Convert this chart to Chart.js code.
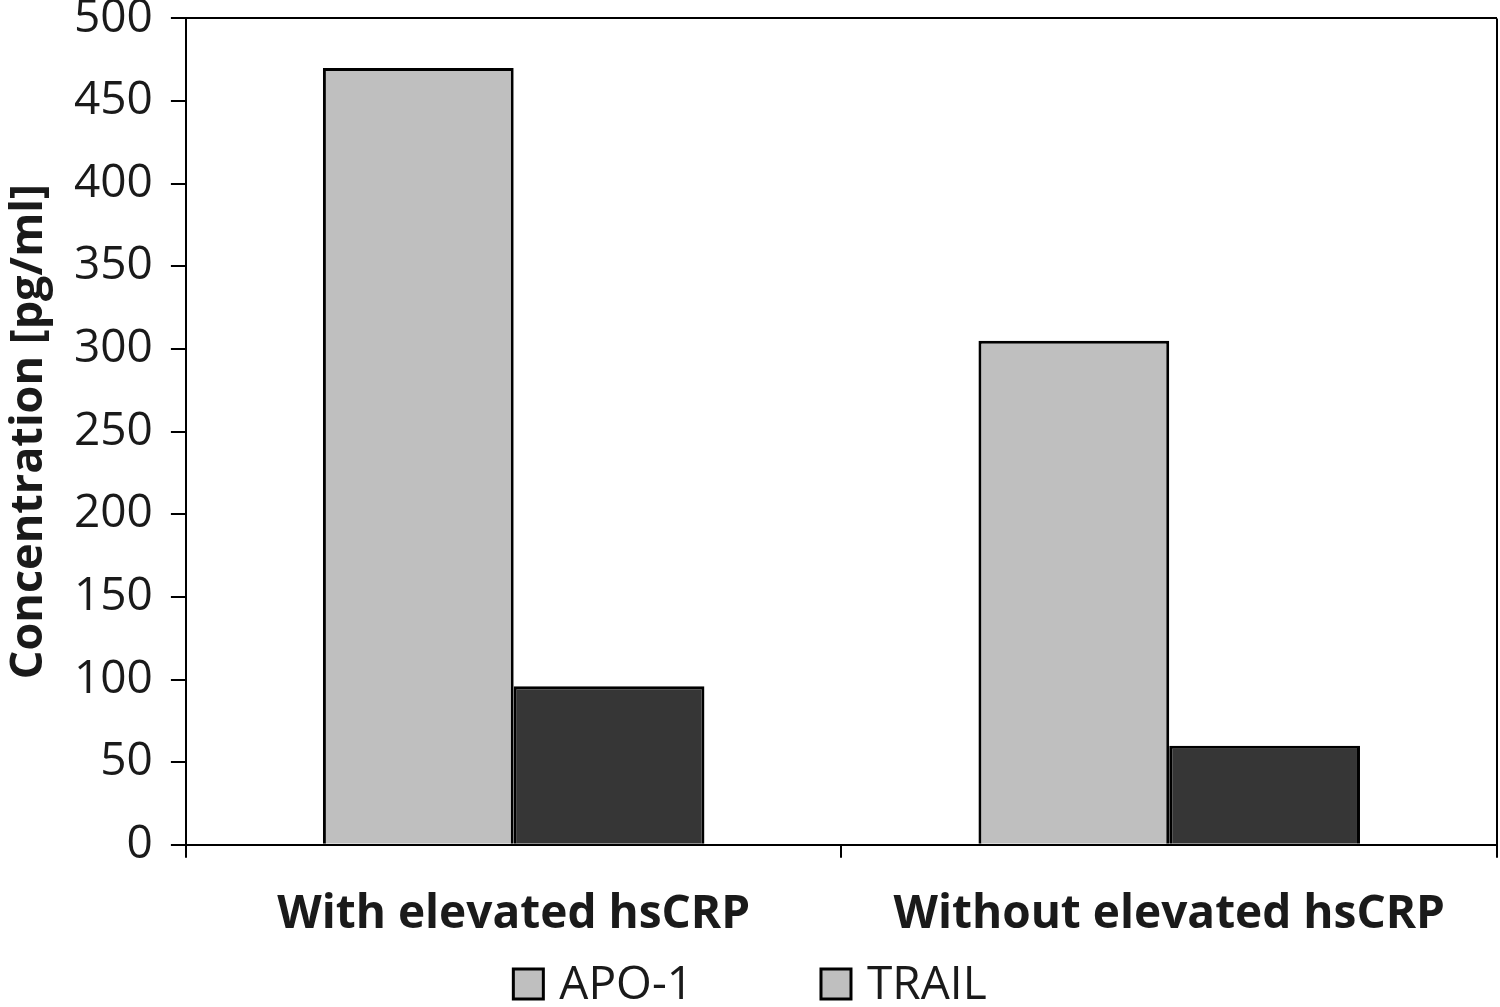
<!DOCTYPE html>
<html>
<head>
<meta charset="utf-8">
<script src="https://cdn.jsdelivr.net/npm/chart.js@4"></script>
<style>
  html, body { margin: 0; padding: 0; background: #fff; }
  canvas { display: block; }
</style>
</head>
<body>
<canvas id="chart" width="1500" height="1007"></canvas>
<script>
// data
const groups = ['With elevated hsCRP', 'Without elevated hsCRP'];
const apo1 = [470, 305];
const trail = [96, 60];
const yTicks = [0, 50, 100, 150, 200, 250, 300, 350, 400, 450, 500];

const fontFamily = '"Open Sans", "Noto Sans", sans-serif';
const ink = '#1a1a1a';

// legend drawn by hand: the original keys are both light grey and widely spaced
const bottomLegend = {
    id: 'bottomLegend',
    afterDraw(chart) {
        const ctx = chart.ctx;
        const box = 30, gap = 16, spacing = 128;
        ctx.save();
        ctx.font = '46px ' + fontFamily;
        ctx.textBaseline = 'middle';
        const items = chart.data.datasets.map(ds => ({
            text: ds.label,
            w: box + gap + ctx.measureText(ds.label).width
        }));
        const total = items.reduce((s, it) => s + it.w, 0) + spacing * (items.length - 1);
        let x = chart.width / 2 - total / 2;
        const y = chart.height - 23;
        items.forEach(it => {
            ctx.fillStyle = '#bfbfbf';
            ctx.fillRect(x, y - box / 2, box, box);
            ctx.lineWidth = 3;
            ctx.strokeStyle = '#000';
            ctx.strokeRect(x, y - box / 2, box, box);
            ctx.fillStyle = ink;
            ctx.fillText(it.text, x + box + gap, y + 2);
            x += it.w + spacing;
        });
        ctx.restore();
    }
};

new Chart(document.getElementById('chart').getContext('2d'), {
    type: 'bar',
    data: {
        labels: groups,
        datasets: [
            {
                label: 'APO-1',
                data: apo1,
                backgroundColor: '#bfbfbf',
                borderColor: '#000',
                borderWidth: 3
            },
            {
                label: 'TRAIL',
                data: trail,
                backgroundColor: '#363636',
                borderColor: '#000',
                borderWidth: 3
            }
        ]
    },
    plugins: [bottomLegend],
    options: {
        responsive: false,
        devicePixelRatio: 1,
        animation: false,
        layout: { autoPadding: false, padding: { top: 0, right: 3, left: 2, bottom: 36 } },
        datasets: {
            bar: { categoryPercentage: 0.582, barPercentage: 1.0 }
        },
        plugins: {
            tooltip: { enabled: false },
            legend: { display: false }
        },
        scales: {
            x: {
                border: { display: true, color: '#000', width: 2 },
                grid: {
                    offset: true,
                    drawOnChartArea: true,
                    color: (ctx) => ctx.tick ? 'transparent' : '#000',
                    tickColor: '#000',
                    tickLength: 13,
                    lineWidth: 2
                },
                ticks: {
                    color: ink,
                    padding: 29,
                    font: { family: fontFamily, size: 46, weight: 'bold' }
                }
            },
            y: {
                min: 0,
                max: 500,
                afterBuildTicks: (axis) => { axis.ticks = yTicks.map(v => ({ value: v })); },
                border: { display: true, color: '#000', width: 2 },
                grid: {
                    color: (ctx) => ctx.tick && ctx.tick.value === 500 ? '#000' : 'transparent',
                    tickColor: '#000',
                    tickLength: 15,
                    lineWidth: 2
                },
                ticks: {
                    color: ink,
                    padding: 18,
                    // tiny line height so the top label does not push the plot down
                    font: { family: fontFamily, size: 46, lineHeight: 0.02 }
                },
                title: {
                    display: true,
                    text: 'Concentration [pg/ml]',
                    color: ink,
                    padding: { top: 0, bottom: 0 },
                    font: { family: fontFamily, size: 45, weight: 'bold' }
                }
            }
        }
    }
});
</script>
</body>
</html>
